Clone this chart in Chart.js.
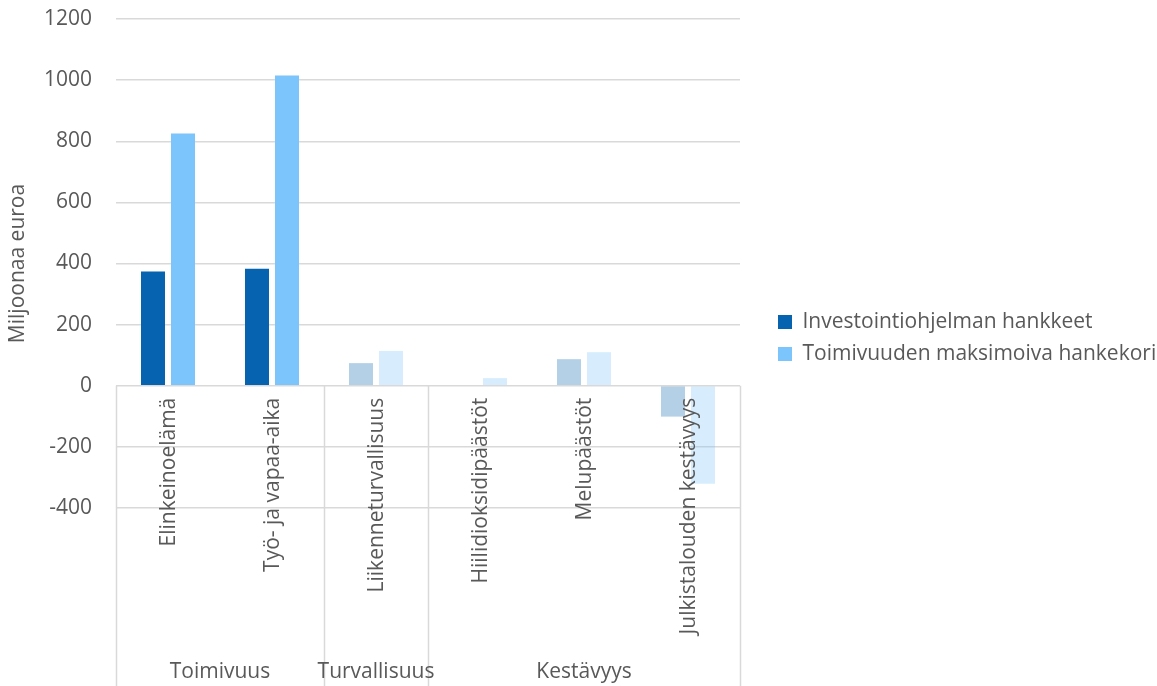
<!DOCTYPE html>
<html lang="fi">
<head>
<meta charset="utf-8">
<title>Hankekorien vaikutukset</title>
<script src="https://cdn.jsdelivr.net/npm/chart.js@4.4.1/dist/chart.umd.min.js"></script>
<style>
  html, body { margin: 0; padding: 0; background: #fff; }
  #wrap { width: 1157px; height: 686px; }
</style>
</head>
<body>
<div id="wrap"><canvas id="kaavio"></canvas></div>
<script>
// luokat ja niiden ryhmittely
const kategoriat = ['Elinkeinoelämä', 'Työ- ja vapaa-aika', 'Liikenneturvallisuus',
  'Hiilidioksidipäästöt', 'Melupäästöt', 'Julkistalouden kestävyys'];
const ryhmat = ['Toimivuus', 'Turvallisuus', 'Kestävyys'];
const ryhmienKoot = [2, 1, 3];

// miljoonaa euroa
const investointiohjelma = [374, 383, 74, 0, 87, -101];
const maksimoivaKori = [825, 1015, 114, 25, 110, -321];

const yTikit = [-400, -200, 0, 200, 400, 600, 800, 1000, 1200];

const TUMMA = '#0563b0';
const VAALEA = '#7cc4fc';
const HAALEA_TUMMA = 'rgba(5, 99, 176, 0.3)';
const HAALEA_VAALEA = 'rgba(124, 196, 252, 0.3)';
const TEKSTI = '#595959';
const VIIVA = '#d9d9d9';
const FONTTI = '"Open Sans", sans-serif';
const KOKO = 21;

Chart.defaults.font.family = FONTTI;
Chart.defaults.font.size = KOKO;
Chart.defaults.color = TEKSTI;

// vain toimivuuden palkit korostetaan
const korostettu = (ctx) => ctx.dataIndex < ryhmienKoot[0];

// luokka-akseli nollatason alle: luokat pystyssä, ryhmät alimpana
const luokkaAkseli = {
  id: 'luokkaAkseli',
  afterDraw(chart) {
    const { ctx, scales: { x, y } } = chart;
    const y0 = y.getPixelForValue(0);
    const puoli = (x.getPixelForValue(1) - x.getPixelForValue(0)) / 2;

    const rajat = [x.getPixelForValue(0) - puoli];
    let n = 0;
    ryhmienKoot.forEach(k => {
      n += k;
      rajat.push(x.getPixelForValue(n - 1) + puoli);
    });

    ctx.save();
    ctx.strokeStyle = VIIVA;
    ctx.lineWidth = 1.5;
    ctx.beginPath();
    rajat.forEach(r => {
      ctx.moveTo(Math.round(r) + 0.5, y0);
      ctx.lineTo(Math.round(r) + 0.5, chart.height);
    });
    ctx.stroke();

    ctx.fillStyle = TEKSTI;
    ctx.font = KOKO + 'px ' + FONTTI;
    ctx.textAlign = 'right';
    ctx.textBaseline = 'middle';
    kategoriat.forEach((k, i) => {
      ctx.save();
      ctx.translate(x.getPixelForValue(i) + 1, y0 + 12);
      ctx.rotate(-Math.PI / 2);
      ctx.fillText(k, 0, 0);
      ctx.restore();
    });

    ctx.textAlign = 'center';
    ryhmat.forEach((nimi, i) => {
      ctx.fillText(nimi, (rajat[i] + rajat[i + 1]) / 2, chart.height - 14);
    });
    ctx.restore();
  }
};

new Chart(document.getElementById('kaavio'), {
  type: 'bar',
  data: {
    labels: kategoriat,
    datasets: [
      {
        label: 'Investointiohjelman hankkeet',
        data: investointiohjelma,
        backgroundColor: (ctx) => korostettu(ctx) ? TUMMA : HAALEA_TUMMA,
        borderWidth: 0
      },
      {
        label: 'Toimivuuden maksimoiva hankekori',
        data: maksimoivaKori,
        backgroundColor: (ctx) => korostettu(ctx) ? VAALEA : HAALEA_VAALEA,
        borderWidth: 0
      }
    ]
  },
  options: {
    responsive: true,
    maintainAspectRatio: false,
    animation: false,
    categoryPercentage: 0.577,
    barPercentage: 0.8,
    layout: { padding: { top: 19, right: 0, bottom: 0, left: 0 } },
    scales: {
      x: {
        grid: { display: false },
        border: { display: false },
        ticks: { display: false },
        afterFit: (s) => { s.height = 178; }
      },
      y: {
        min: yTikit[0],
        max: yTikit[yTikit.length - 1],
        afterBuildTicks: (s) => { s.ticks = yTikit.map(v => ({ value: v })); },
        grid: {
          color: VIIVA,
          lineWidth: 1.5,
          drawTicks: true,
          tickLength: 22,
          tickColor: 'rgba(0, 0, 0, 0)'
        },
        border: { display: false },
        ticks: { padding: 2, callback: (v) => String(v) },
        title: {
          display: true,
          text: 'Miljoonaa euroa',
          padding: { top: 5, bottom: 0 }
        },
        afterFit: (s) => { s.width = 116; }
      },
      // tyhjä väli piirtoalueen ja selitteen väliin
      vali: {
        type: 'linear',
        axis: 'y',
        position: 'right',
        grid: { display: false },
        border: { display: false },
        ticks: { display: false },
        afterFit: (s) => { s.width = 27; }
      }
    },
    plugins: {
      legend: {
        position: 'right',
        align: 'start',
        maxWidth: 390,
        title: { display: true, text: '', font: { size: 10 }, padding: { top: 269.5, bottom: 0 } },
        labels: {
          boxWidth: 14,
          boxHeight: 14,
          padding: 11,
          color: TEKSTI
        }
      },
      tooltip: { enabled: false }
    }
  },
  plugins: [luokkaAkseli]
});
</script>
</body>
</html>
